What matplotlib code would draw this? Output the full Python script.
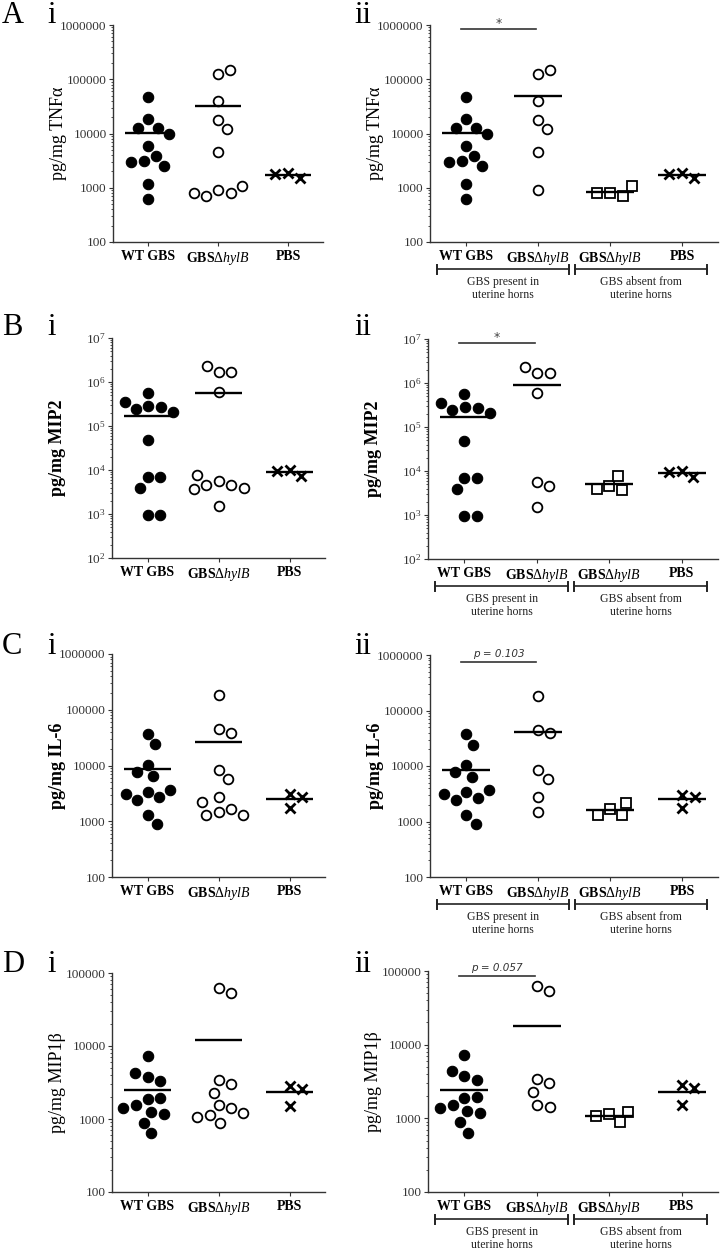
import numpy as np
import matplotlib
matplotlib.use("Agg")
import matplotlib.pyplot as plt
from matplotlib.ticker import LogLocator, FuncFormatter, LogFormatterSciNotation, NullFormatter

plt.rcParams.update({
    "font.family": ["Liberation Serif", "DejaVu Serif"],
    "mathtext.fontset": "custom",
    "mathtext.rm": "Liberation Serif",
    "mathtext.it": "Liberation Serif:italic",
    "mathtext.bf": "Liberation Serif:bold",
})

W, H = 720, 1250
MUT = r"$\mathbf{GBS}\Delta\mathit{hylB}$"

# --- data (pg/mg) ---
# "present" = GBS recovered from uterine horns, "absent" = not recovered;
# panel i pools both mutant groups.
tnf_wt = [46700, 18400, 12900, 12900, 9700, 6000, 3830, 3100, 2950, 2500, 1170, 630]
tnf_mut_present = [125000, 148000, 39000, 17900, 12200, 4470, 920]
tnf_mut_absent = [798, 713, 798, 1060]
tnf_pbs = [1860, 1490, 1820]

mip2_wt = [562000, 285000, 248000, 270000, 357000, 205000, 48900, 6810, 6810, 3900, 966, 966]
mip2_mut_present = [1730000, 1670000, 2290000, 578000, 5520, 4490, 1510]
mip2_mut_absent = [4640, 3700, 3960, 7500]
mip2_pbs = [9830, 7180, 9400]

il6_wt = [37300, 24000, 10400, 6410, 7790, 3340, 2680, 2400, 3080, 3630, 1300, 908]
il6_mut_present = [184000, 45400, 39000, 8300, 5780, 2770, 1465]
il6_mut_absent = [1650, 1300, 1300, 2170]
il6_pbs = [1720, 3030, 2730]

mip1b_wt = [7310, 3780, 3330, 4330, 1870, 1970, 1540, 1260, 1170, 1400, 892, 638]
mip1b_mut_present = [62100, 53200, 3390, 3040, 2300, 1535, 1430]
mip1b_mut_absent = [1130, 892, 1077, 1220]
mip1b_pbs = [2870, 2560, 1500]

labels_i = ["WT GBS", MUT, "PBS"]
labels_ii = ["WT GBS", MUT, MUT, "PBS"]
group_text = ["GBS present in\nuterine horns", "GBS absent from\nuterine horns"]

FILLED = dict(marker="o", ms=7.5, mfc="black", mec="black", mew=0.8)
OPEN = dict(marker="o", ms=7.0, mfc="white", mec="black", mew=1.3)
SQUARE = dict(marker="s", ms=6.6, mfc="white", mec="black", mew=1.3)
CROSS = dict(marker="x", ms=6.5, mec="black", mew=2)


def px_axes(fig, x0, y0, x1, y1):
    return fig.add_axes([x0 / W, 1 - y1 / H, (x1 - x0) / W, (y1 - y0) / H])


def swarm_x(ax, xc, vals, gap=13.0):
    """Greedy beeswarm in display space, returns x in data units."""
    disp = ax.transData.transform(np.column_stack([np.full(len(vals), float(xc)), vals]))
    placed = []
    for y in disp[:, 1]:
        cands = [0.0]
        for px, py in placed:
            dy = y - py
            if abs(dy) < gap:
                dx = np.sqrt(gap ** 2 - dy ** 2)
                cands += [px + dx, px - dx]
        cands.sort(key=abs)
        for c in cands:
            if all(np.hypot(c - px, y - py) >= gap - 1e-6 for px, py in placed):
                break
        placed.append((c, y))
    off = np.array([p[0] for p in placed])
    back = ax.transData.inverted().transform(np.column_stack([disp[:, 0] + off, disp[:, 1]]))
    return back[:, 0]


def draw_group(ax, xc, vals, style):
    xs = swarm_x(ax, xc, vals)
    ax.plot(xs, vals, linestyle="none", zorder=3, clip_on=False, **style)
    m = np.mean(vals)
    ax.plot([xc - 0.33, xc + 0.33], [m, m], color="black", lw=1.7, zorder=4,
            solid_capstyle="butt")


def style_axes(ax, ylim, sci, ylabel, bold, labels, box):
    n = len(labels)
    ax.set_yscale("log")
    ax.set_ylim(*ylim)
    ax.set_xlim(-0.5, n - 0.5)
    for s in ("top", "right"):
        ax.spines[s].set_visible(False)
    for s in ("left", "bottom"):
        ax.spines[s].set_color("#333333")
        ax.spines[s].set_linewidth(1.0)
    ax.yaxis.set_major_locator(LogLocator(base=10, numticks=12))
    ax.yaxis.set_minor_locator(LogLocator(base=10, subs=np.arange(2, 10), numticks=12))
    ax.yaxis.set_minor_formatter(NullFormatter())
    if sci:
        ax.yaxis.set_major_formatter(LogFormatterSciNotation())
    else:
        ax.yaxis.set_major_formatter(FuncFormatter(lambda v, _: f"{v:.0f}"))
    ax.tick_params(axis="y", which="major", length=3, width=0.8, color="#333333",
                   labelsize=9.5, labelcolor="#333333", pad=1.5)
    ax.tick_params(axis="y", which="minor", length=1.6, width=0.6, color="#333333")
    ax.set_xticks(range(n), labels, fontweight="bold", fontsize=10)
    ax.tick_params(axis="x", length=3, width=0.8, color="#333333", pad=3)
    w_px = box[2] - box[0]
    ax.set_ylabel(ylabel, fontsize=13, fontweight="bold" if bold else "normal")
    ax.yaxis.set_label_coords(-46 / w_px, 0.5)


def brackets(ax, box):
    h_px = box[3] - box[1]
    tr = ax.get_xaxis_transform()
    yb = -27 / h_px
    for (x0, x1), txt in zip([(-0.40, 1.43), (1.52, 3.35)], group_text):
        ax.plot([x0, x1], [yb, yb], color="#222222", lw=1.2, transform=tr, clip_on=False)
        for xe in (x0, x1):
            ax.plot([xe, xe], [yb - 4.5 / h_px, yb + 4.5 / h_px], color="#222222", lw=1.4,
                    transform=tr, clip_on=False)
        ax.text((x0 + x1) / 2, yb - 7 / h_px, txt, transform=tr, ha="center", va="top",
                fontsize=8.5, linespacing=1.15, color="#222222")


def sig_bar(ax, box, drop_px, text, is_p):
    h_px = box[3] - box[1]
    tr = ax.get_xaxis_transform()
    y = 1 - drop_px / h_px
    ax.plot([-0.07, 0.97], [y, y], color="#333333", lw=1.2, transform=tr, clip_on=False)
    if is_p:
        ax.text(0.45, y + 3 / h_px, text, transform=tr, ha="center", va="bottom",
                fontsize=7.5, style="italic", family="DejaVu Sans", color="#333333")
    else:
        ax.text(0.45, y - 1 / h_px, text, transform=tr, ha="center", va="bottom",
                fontsize=9, family="DejaVu Sans", color="#444444")


def main():
    fig = plt.figure(figsize=(W / 100, H / 100), dpi=100)

    rows = [
        dict(letter="A", ylabel="pg/mg TNFα", bold=False, ylim=(100, 1e6), sci=False,
             wt=tnf_wt, present=tnf_mut_present, absent=tnf_mut_absent, pbs=tnf_pbs,
             box_i=(113, 25, 323, 242), box_ii=(430, 25, 718, 242), base=23,
             sig=("*", False, 4)),
        dict(letter="B", ylabel="pg/mg MIP2", bold=True, ylim=(1e2, 1e7), sci=True,
             wt=mip2_wt, present=mip2_mut_present, absent=mip2_mut_absent, pbs=mip2_pbs,
             box_i=(112, 338, 325, 558), box_ii=(428, 339, 718, 559), base=335,
             sig=("*", False, 4)),
        dict(letter="C", ylabel="pg/mg IL-6", bold=True, ylim=(100, 1e6), sci=False,
             wt=il6_wt, present=il6_mut_present, absent=il6_mut_absent, pbs=il6_pbs,
             box_i=(112, 654, 325, 877), box_ii=(430, 655, 718, 877), base=654,
             sig=("p = 0.103", True, 7)),
        dict(letter="D", ylabel="pg/mg MIP1β", bold=False, ylim=(100, 1e5), sci=False,
             wt=mip1b_wt, present=mip1b_mut_present, absent=mip1b_mut_absent, pbs=mip1b_pbs,
             box_i=(112, 973, 325, 1192), box_ii=(428, 971, 718, 1192), base=972,
             sig=("p = 0.057", True, 5)),
    ]

    for r in rows:
        ax1 = px_axes(fig, *r["box_i"])
        style_axes(ax1, r["ylim"], r["sci"], r["ylabel"], r["bold"], labels_i, r["box_i"])
        draw_group(ax1, 0, r["wt"], FILLED)
        draw_group(ax1, 1, r["present"] + r["absent"], OPEN)
        draw_group(ax1, 2, r["pbs"], CROSS)

        ax2 = px_axes(fig, *r["box_ii"])
        style_axes(ax2, r["ylim"], r["sci"], r["ylabel"], r["bold"], labels_ii, r["box_ii"])
        draw_group(ax2, 0, r["wt"], FILLED)
        draw_group(ax2, 1, r["present"], OPEN)
        draw_group(ax2, 2, r["absent"], SQUARE)
        draw_group(ax2, 3, r["pbs"], CROSS)
        brackets(ax2, r["box_ii"])
        text, is_p, drop = r["sig"]
        sig_bar(ax2, r["box_ii"], drop, text, is_p)

        yb = 1 - r["base"] / H
        fig.text(2 / W, yb, r["letter"], fontsize=22, va="baseline")
        fig.text(47 / W, yb, "i", fontsize=22, va="baseline")
        fig.text(354 / W, yb, "ii", fontsize=22, va="baseline")

    fig.savefig("out.png", dpi=100)


if __name__ == "__main__":
    main()
